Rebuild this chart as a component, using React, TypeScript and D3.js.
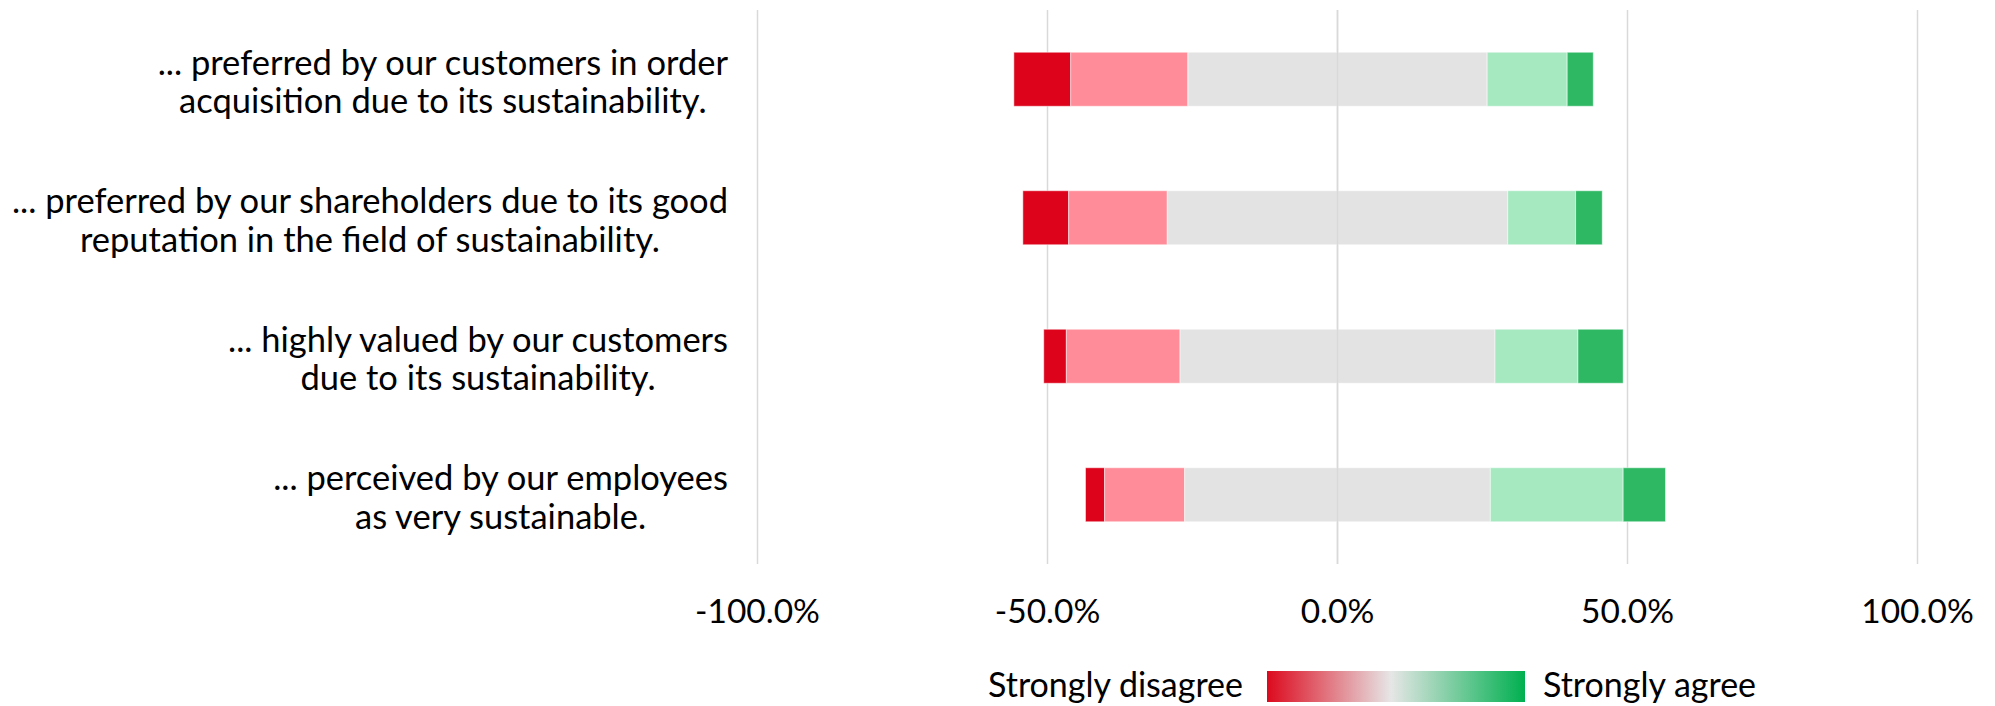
import React, { useEffect, useRef } from "react";
import * as d3 from "d3";

const categories = [
  "... preferred by our customers in order|acquisition due to its sustainability.",
  "... preferred by our shareholders due to its good|reputation in the field of sustainability.",
  "... highly valued by our customers|due to its sustainability.",
  "... perceived by our employees|as very sustainable.",
];
const stronglyDisagree = [9.8, 7.9, 3.9, 3.3];
const disagree = [20.2, 17.0, 19.6, 13.8];
const neutral = [51.6, 58.7, 54.3, 52.7];
const agree = [13.8, 11.7, 14.3, 22.9];
const stronglyAgree = [4.5, 4.6, 7.8, 7.3];
const xTicks = [-100, -50, 0, 50, 100];
const legendLabels = ["Strongly disagree", "Strongly agree"];

const W = 1995;
const H = 706;
const FONT = "Lato, 'Open Sans', sans-serif";

export default function App() {
  const ref = useRef<SVGSVGElement | null>(null);

  useEffect(() => {
    const svg = d3.select(ref.current);
    svg.selectAll("*").remove();

    const x = d3.scaleLinear().domain([-100, 100]).range([757.5, 1917.5]);
    const y = d3.scaleBand<number>().domain(d3.range(categories.length)).range([10, 564]).paddingInner(0).paddingOuter(0);
    const barH = y.step() * 0.39;

    // gridlines
    svg.append("g")
      .selectAll("line")
      .data(xTicks)
      .join("line")
      .attr("x1", (d) => x(d))
      .attr("x2", (d) => x(d))
      .attr("y1", 10)
      .attr("y2", 564)
      .attr("stroke", "#D9D9D9")
      .attr("stroke-width", 1.5);

    const colors = ["#DC031A", "#FF8C98", "#E3E3E3", "#E3E3E3", "#A6E9C0", "#2FB864"];
    const rows = categories.map((_, i) => {
      const segs = [stronglyDisagree[i], disagree[i], neutral[i] / 2, neutral[i] / 2, agree[i], stronglyAgree[i]];
      let start = -(stronglyDisagree[i] + disagree[i] + neutral[i] / 2);
      return segs.map((v, k) => {
        const s = start;
        start += v;
        return { i, k, x0: s, x1: s + v };
      });
    });

    svg.append("g")
      .selectAll("rect")
      .data(rows.flat())
      .join("rect")
      .attr("x", (d) => x(d.x0))
      .attr("width", (d) => x(d.x1) - x(d.x0))
      .attr("y", (d) => (y(d.i) as number) + y.bandwidth() / 2 - barH / 2)
      .attr("height", barH)
      .attr("fill", (d) => colors[d.k])
      .attr("stroke", "#ffffff")
      .attr("stroke-opacity", 0.5)
      .attr("stroke-width", 1);

    // zero line over the neutral segment
    svg.append("line")
      .attr("x1", x(0)).attr("x2", x(0))
      .attr("y1", 10).attr("y2", 564)
      .attr("stroke", "#D9D9D9").attr("stroke-width", 1.5);

    // tick labels
    const fmt = (d: number) => (d < 0 ? "-" : "") + Math.abs(d).toFixed(1) + "%";
    svg.append("g")
      .selectAll("text")
      .data(xTicks)
      .join("text")
      .attr("x", (d) => x(d))
      .attr("y", 623)
      .attr("text-anchor", "middle")
      .attr("font-family", FONT)
      .attr("font-size", 33.5)
      .attr("fill", "#000")
      .text((d) => fmt(d));

    // category labels
    const labelRight = 728;
    categories.forEach((c, i) => {
      const lines = c.split("|");
      const g = svg.append("g");
      const texts = lines.map((ln, j) =>
        g.append("text")
          .attr("y", (y(i) as number) + y.bandwidth() / 2 - 4.5 + j * 38.5)
          .attr("text-anchor", "middle")
          .attr("font-family", FONT)
          .attr("font-size", 34.5)
          .attr("fill", "#000")
          .text(ln)
      );
      const maxW = d3.max(texts, (t) => (t.node() as SVGTextElement).getComputedTextLength()) || 0;
      texts.forEach((t) => t.attr("x", labelRight - maxW / 2));
    });

    // legend
    const defs = svg.append("defs");
    const grad = defs.append("linearGradient").attr("id", "lg").attr("x1", "0%").attr("x2", "100%");
    grad.append("stop").attr("offset", "0%").attr("stop-color", "#DC0A1E");
    grad.append("stop").attr("offset", "48%").attr("stop-color", "#E6E6E6");
    grad.append("stop").attr("offset", "100%").attr("stop-color", "#00B050");
    svg.append("rect")
      .attr("x", 1267).attr("y", 671).attr("width", 258).attr("height", 31)
      .attr("fill", "url(#lg)");
    svg.append("text")
      .attr("x", 1243).attr("y", 697)
      .attr("text-anchor", "end")
      .attr("font-family", FONT).attr("font-size", 34).attr("fill", "#000")
      .text(legendLabels[0]);
    svg.append("text")
      .attr("x", 1543).attr("y", 697)
      .attr("text-anchor", "start")
      .attr("font-family", FONT).attr("font-size", 34).attr("fill", "#000")
      .text(legendLabels[1]);
  }, []);

  return (
    <svg
      ref={ref}
      width={W}
      height={H}
      style={{ position: "absolute", left: 0, top: 0, background: "#fff" }}
    />
  );
}
